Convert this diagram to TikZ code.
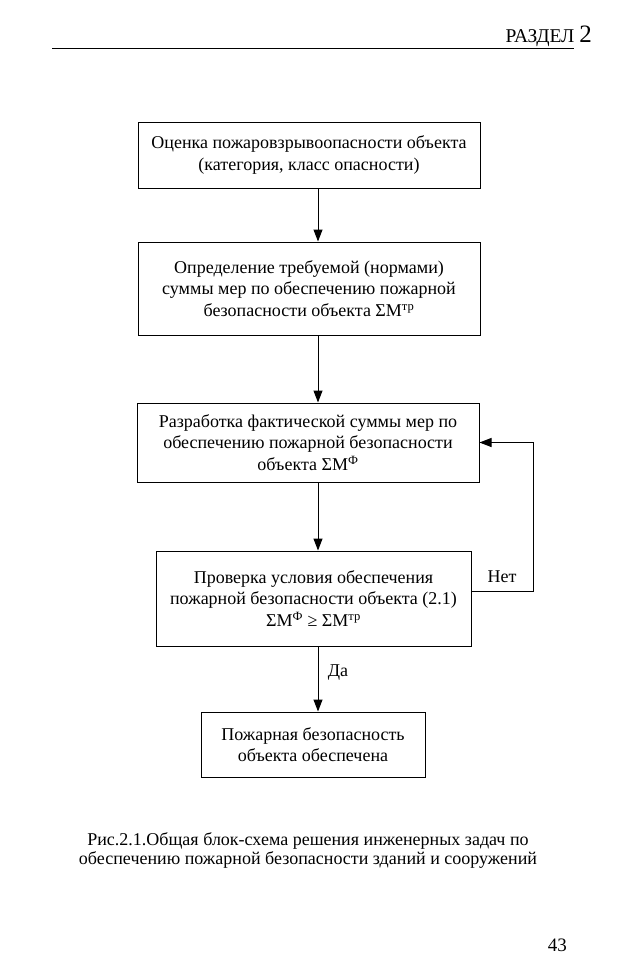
\documentclass[tikz,border=0pt]{standalone}
\usepackage{fontspec}
\setmainfont{Liberation Serif}
\usetikzlibrary{arrows.meta,positioning}

\begin{document}
\begin{tikzpicture}[x=1pt, y=-1pt,
    every node/.style={font=\fontsize{18}{21.5}\selectfont},
    box/.style={draw, line width=1pt, align=center, inner sep=0pt},
    arr/.style={line width=1pt, -{Triangle[length=12pt, width=9pt]}}]
    \useasboundingbox (0,0) rectangle (620,962);

    % Header
    \node [anchor=base east, inner sep=0pt, font=\fontsize{19.5}{22}\selectfont] (razdel) at (592,42)
        {РАЗДЕЛ {\fontsize{25}{25}\selectfont 2}};
    \coordinate (hl) at (52,48);
    \coordinate (hr) at (574,48);
    \draw [line width=1pt] (hl) -- (hr);

    % Boxes
    \node [box, minimum width=342, minimum height=66] (assess) at (309,155)
        {Оценка пожаровзрывоопасности объекта\\(категория, класс опасности)};
    \node [box, minimum width=342, minimum height=93] (norm) at (309,288.5)
        {Определение требуемой (нормами)\\суммы мер по обеспечению пожарной\\безопасности объекта ΣМ\textsuperscript{тр}};
    \node [box, minimum width=342, minimum height=79] (develop) at (308,442.5)
        {Разработка фактической суммы мер по\\обеспечению пожарной безопасности\\объекта ΣМ\textsuperscript{Ф}};
    \node [box, minimum width=315, minimum height=95] (check) at (313.5,598.5)
        {Проверка условия обеспечения\\пожарной безопасности объекта (2.1)\\ΣМ\textsuperscript{Ф} ≥ ΣМ\textsuperscript{тр}};
    \node [box, minimum width=224, minimum height=65] (safe) at (313,744.5)
        {Пожарная безопасность\\объекта обеспечена};

    % Arrows
    \coordinate (spine) at (318,0);
    \draw [arr] (assess.south -| spine) -- (norm.north -| spine);
    \draw [arr] (norm.south -| spine) -- (develop.north -| spine);
    \draw [arr] (develop.south -| spine) -- (check.north -| spine);
    \draw [arr] (check.south -| spine) -- node [right=6pt, pos=0.4] (yes) {Да} (safe.north -| spine);
    \coordinate (loopbr) at (533,591);
    \draw [arr] ([yshift=7.5pt]check.east) -- (loopbr) |- (develop.east);
    \node (no) at (502,577) {Нет};

    % Caption and page number
    \node [align=center, font=\fontsize{18}{19}\selectfont] (caption) at (308,850)
        {Рис.2.1.Общая блок-схема решения инженерных задач по\\обеспечению пожарной безопасности зданий и сооружений};
    \node [anchor=base east, inner sep=0pt, font=\fontsize{19}{22}\selectfont] (page) at (567,951) {43};
\end{tikzpicture}
\end{document}
